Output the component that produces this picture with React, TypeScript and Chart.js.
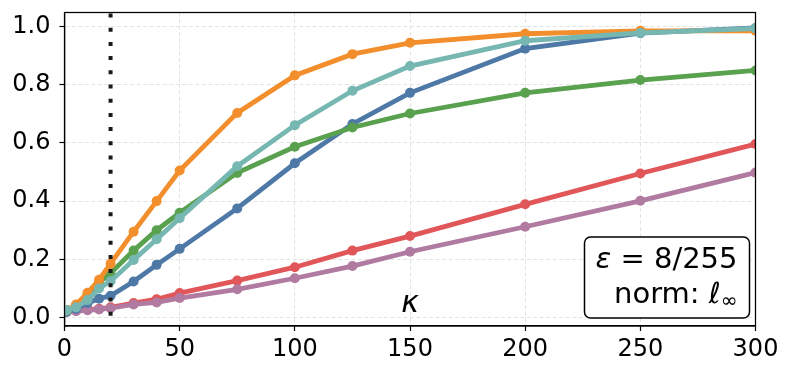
import React, { useEffect, useRef } from "react";
import { Chart, registerables } from "chart.js";

Chart.register(...registerables);

// ---- data ----
const kappa = [1, 5, 10, 15, 20, 30, 40, 50, 75, 100, 125, 150, 200, 250, 300];
const seriesOrange = [0.025, 0.045, 0.085, 0.13, 0.185, 0.295, 0.4, 0.505, 0.703, 0.832, 0.905, 0.944, 0.975, 0.985, 0.985];
const seriesTeal = [0.025, 0.035, 0.06, 0.1, 0.125, 0.198, 0.269, 0.341, 0.52, 0.661, 0.779, 0.864, 0.951, 0.978, 0.993];
const seriesBlue = [0.02, 0.03, 0.05, 0.065, 0.075, 0.124, 0.181, 0.236, 0.375, 0.53, 0.665, 0.772, 0.924, 0.977, 0.995];
const seriesGreen = [0.025, 0.04, 0.08, 0.12, 0.152, 0.23, 0.3, 0.36, 0.497, 0.587, 0.653, 0.701, 0.772, 0.816, 0.849];
const seriesRed = [0.02, 0.025, 0.028, 0.03, 0.035, 0.05, 0.063, 0.084, 0.127, 0.173, 0.23, 0.28, 0.389, 0.495, 0.596];
const seriesPurple = [0.02, 0.022, 0.025, 0.028, 0.032, 0.045, 0.052, 0.067, 0.097, 0.135, 0.177, 0.226, 0.312, 0.401, 0.498];

const xTicks = [0, 50, 100, 150, 200, 250, 300];
const yTicks = [0, 0.2, 0.4, 0.6, 0.8, 1.0];
const xRange = [0, 300];
const yRange = [-0.029, 1.048];
const markKappa = 20;
const xLabelText = "κ";
const epsText = "8/255";
const normText = "norm: ";

const FONT = '"DejaVu Sans", sans-serif';

type Part = { t: string; italic?: boolean; scale?: number; dy?: number };

function drawParts(ctx: CanvasRenderingContext2D, parts: Part[], right: number, baseline: number, size: number) {
  const widths = parts.map((p) => {
    ctx.font = `${p.italic ? "italic " : ""}${Math.round(size * (p.scale || 1))}px ${FONT}`;
    return ctx.measureText(p.t).width;
  });
  let x = right - widths.reduce((a, b) => a + b, 0);
  parts.forEach((p, i) => {
    ctx.font = `${p.italic ? "italic " : ""}${Math.round(size * (p.scale || 1))}px ${FONT}`;
    ctx.fillText(p.t, x, baseline + (p.dy || 0));
    x += widths[i];
  });
}

const overlay = {
  id: "overlay",
  afterDatasetsDraw(chart: any) {
    const { ctx, chartArea: a, scales } = chart;
    const xs = scales.x;
    ctx.save();
    // vertical dotted marker
    const px = xs.getPixelForValue(markKappa);
    ctx.strokeStyle = "#1a1a1a";
    ctx.lineWidth = 4;
    ctx.setLineDash([4, 10.2]);
    ctx.beginPath();
    ctx.moveTo(px, a.top + 1);
    ctx.lineTo(px, a.bottom);
    ctx.stroke();
    ctx.setLineDash([]);
    // frame
    ctx.strokeStyle = "#000";
    ctx.lineWidth = 1.25;
    ctx.strokeRect(a.left, a.top, a.right - a.left, a.bottom - a.top);

    // kappa label
    ctx.fillStyle = "#000";
    ctx.textBaseline = "alphabetic";
    ctx.textAlign = "center";
    ctx.font = `italic 30px ${FONT}`;
    ctx.fillText(xLabelText, xs.getPixelForValue(150), a.bottom - 14);
    ctx.textAlign = "left";

    // annotation box
    const bw = 165, bh = 81;
    const bx = a.right - 6 - bw;
    const by = a.bottom - 8 - bh;
    ctx.fillStyle = "#fff";
    ctx.strokeStyle = "#000";
    ctx.lineWidth = 1.5;
    ctx.beginPath();
    (ctx as any).roundRect(bx, by, bw, bh, 6);
    ctx.fill();
    ctx.stroke();
    ctx.fillStyle = "#000";
    const tr = bx + bw - 12;
    drawParts(ctx, [{ t: "ε", italic: true }, { t: " = " + epsText }], tr, by + 31, 29);
    drawParts(ctx, [{ t: normText }, { t: "ℓ", italic: true }, { t: "∞", scale: 0.7, dy: 4 }], tr, by + 66, 29);
    ctx.restore();
  },
};

export default function App() {
  const ref = useRef<HTMLCanvasElement>(null);
  useEffect(() => {
    document.body.style.margin = "0";
    const mk = (label: string, data: number[], color: string, order: number) => ({
      label,
      data: kappa.map((k, i) => ({ x: k, y: data[i] })),
      borderColor: color,
      backgroundColor: color,
      borderWidth: 4.8,
      pointRadius: 5,
      pointBorderWidth: 0,
      pointBackgroundColor: color,
      tension: 0,
      clip: 0,
      order,
    });
    const gridOpts = {
      color: "#e3e3e3",
      lineWidth: 1,
      tickColor: "#000",
      tickLength: 5,
      tickWidth: 1.2,
      tickBorderDash: [],
    };
    const chart = new Chart(ref.current!, {
      type: "line",
      data: {
        datasets: [
          mk("teal", seriesTeal, "#76b7b2", 1),
          mk("orange", seriesOrange, "#f28e2b", 2),
          mk("green", seriesGreen, "#59a14f", 3),
          mk("blue", seriesBlue, "#4e79a7", 4),
          mk("purple", seriesPurple, "#b07aa1", 5),
          mk("red", seriesRed, "#e15759", 6),
        ],
      },
      options: {
        animation: false,
        responsive: false,
        maintainAspectRatio: false,
        devicePixelRatio: 1,
        layout: { padding: { top: 12.5, right: 36.5, left: 0, bottom: 0 } },
        plugins: { legend: { display: false }, tooltip: { enabled: false } },
        scales: {
          x: {
            type: "linear",
            min: xRange[0],
            max: xRange[1],
            afterBuildTicks: (s: any) => {
              s.ticks = xTicks.map((v) => ({ value: v }));
            },
            afterFit: (s: any) => {
              s.height = 50;
              s.paddingLeft = 0;
              s.paddingRight = 0;
            },
            ticks: {
              color: "#000",
              font: { family: FONT, size: 24 },
              padding: 4,
              maxRotation: 0,
              autoSkip: false,
            },
            grid: gridOpts,
            border: { display: true, color: "#000", width: 1.25, dash: [4, 2.5] },
          },
          y: {
            type: "linear",
            min: yRange[0],
            max: yRange[1],
            afterBuildTicks: (s: any) => {
              s.ticks = yTicks.map((v) => ({ value: v }));
            },
            afterFit: (s: any) => {
              s.width = 64.5;
              s.paddingTop = 0;
              s.paddingBottom = 0;
            },
            ticks: {
              color: "#000",
              font: { family: FONT, size: 24 },
              padding: 9,
              callback: (v: any) => Number(v).toFixed(1),
            },
            grid: gridOpts,
            border: { display: true, color: "#000", width: 1.25, dash: [4, 2.5] },
          },
        },
      },
      plugins: [overlay],
    } as any);
    return () => chart.destroy();
  }, []);
  return (
    <div style={{ position: "fixed", left: 0, top: 0, width: 792, height: 376 }}>
      <canvas ref={ref} width={792} height={376} style={{ width: 792, height: 376 }} />
    </div>
  );
}
